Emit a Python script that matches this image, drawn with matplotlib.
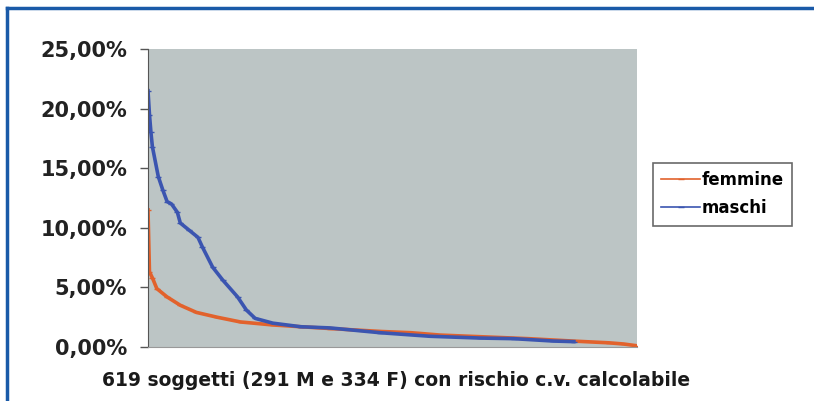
import matplotlib
matplotlib.use("Agg")
import matplotlib.pyplot as plt
from matplotlib.lines import Line2D
from matplotlib.ticker import FuncFormatter, MultipleLocator

plt.rcParams["font.family"] = ["DejaVu Sans"]

# ranked subjects and their cv risk in %
femmine_rank = [1, 2, 4, 7, 14, 23, 34, 48, 64, 86, 105, 125, 160, 180, 200,
                230, 260, 290, 315, 325, 334]
femmine_val = [11.5, 6.3, 5.8, 4.9, 4.2, 3.5, 2.9, 2.5, 2.1, 1.85, 1.7, 1.55,
               1.3, 1.2, 1.0, 0.85, 0.7, 0.5, 0.35, 0.25, 0.1]

maschi_rank = [1, 2, 3, 4, 8, 11, 14, 17, 21, 23, 29, 35, 38, 45, 52, 62, 68,
               74, 86, 105, 125, 159, 193, 227, 250, 277, 291]
maschi_val = [21.5, 19.5, 18.0, 16.8, 14.3, 13.2, 12.2, 12.0, 11.3, 10.4, 9.8,
              9.2, 8.4, 6.7, 5.6, 4.2, 3.1, 2.4, 2.0, 1.7, 1.6, 1.2, 0.9, 0.75,
              0.7, 0.5, 0.45]

n_subjects = 334
xlabel = "619 soggetti (291 M e 334 F) con rischio c.v. calcolabile"

fig = plt.figure(figsize=(8.14, 4.01), dpi=100)
ax = fig.add_axes([148 / 814, 54 / 401, 489 / 814, 298 / 401])
ax.set_facecolor("#bcc5c5")

ax.plot(femmine_rank, femmine_val, color="#e2622c", lw=2.6, label="femmine",
        marker="_", ms=4, mew=1)
ax.plot(maschi_rank, maschi_val, color="#3b55b0", lw=2.6, label="maschi",
        marker="_", ms=4, mew=1)

ax.set_xlim(1, n_subjects)
ax.set_ylim(0, 25)
ax.yaxis.set_major_locator(MultipleLocator(5))
ax.yaxis.set_major_formatter(FuncFormatter(lambda v, p: f"{v:.2f}".replace(".", ",") + "%"))
ax.set_xticks([])
for s in ["top", "right"]:
    ax.spines[s].set_visible(False)
ax.spines["left"].set_color("#555555")
ax.spines["bottom"].set_color("#999999")
ax.tick_params(axis="y", length=6, width=1, color="#555555", pad=9)
for t in ax.get_yticklabels():
    t.set_fontsize(15)
    t.set_fontweight("bold")
    t.set_color("#222222")

fig.text(396 / 814, 1 - 381 / 401, xlabel, ha="center", va="center",
         fontsize=13.5, fontweight="bold", color="#1a1a1a")

leg = fig.legend(loc="upper left", bbox_to_anchor=(653 / 814, 1 - 163 / 401),
                 borderaxespad=0, frameon=True, fancybox=False,
                 edgecolor="#444444", handlelength=2.3, borderpad=0.5,
                 labelspacing=0.6, prop={"size": 12, "weight": "bold"},
                 handletextpad=0.1)
leg.get_frame().set_linewidth(1.2)
for h in leg.get_lines():
    h.set_linewidth(1.2)

# blue frame around the figure (top and left)
fig.add_artist(Line2D([7 / 814, 1], [1 - 8 / 401, 1 - 8 / 401], color="#1a5aa8", lw=2.5))
fig.add_artist(Line2D([7 / 814, 7 / 814], [0, 1 - 8 / 401], color="#1a5aa8", lw=2.5))

fig.savefig("out.png", dpi=100)
